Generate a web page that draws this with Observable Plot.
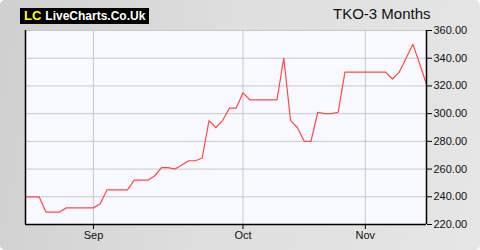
<!DOCTYPE html>
<html><head><meta charset="utf-8">
<script src="https://cdn.jsdelivr.net/npm/d3@7"></script>
<script src="https://cdn.jsdelivr.net/npm/@observablehq/plot@0.6"></script>
<style>
html,body{margin:0;padding:0;background:#fff;}
#wrap{position:relative;width:480px;height:250px;border-radius:5px;overflow:hidden;
 background:linear-gradient(100deg,#cfcfcf 0%,#dedede 45%,#e6e6e6 100%);}
#logo{position:absolute;left:20px;top:8px;height:16px;padding-right:4px;background:#000;
 font:bold 12px "Liberation Sans",Arial,sans-serif;line-height:16px;color:#fff;white-space:nowrap;}
#logo .lc{color:#ffff00;margin-left:4px;margin-right:4px;font-size:13px;}
#title{position:absolute;left:333px;top:5px;font:15px "Liberation Sans",Arial,sans-serif;color:#111;white-space:nowrap;}
#chart{position:absolute;left:0;top:0;}
</style></head>
<body><div id="wrap"><div id="chart"></div>
<div id="logo"><span class="lc">LC</span>LiveCharts.Co.Uk</div>
<div id="title">TKO-3 Months</div></div>
<script>
const prices = [240,240,240,229,229,229,232,232,232,232,232,235,245,245,245,245,252,252,252,255,
 261,261,260,263,266,266,268,295,290,295,304,304,315,310,310,310,310,310,340,295,
 290,280,280,301,300,300,301,330,330,330,330,330,330,330,325,330,340,350,336,321];
const monthLabels = ["Sep","Oct","Nov"];
const monthIdx = [10,32,50];
const yTicks = [220,240,260,280,300,320,340,360];
const yDomain = [220,360];
const xDomain = [0, prices.length-1];

const data = prices.map((v,i)=>({i, v}));
const plot = Plot.plot({
  width:480, height:250,
  marginLeft:25, marginRight:54, marginTop:30, marginBottom:26,
  style:{background:"transparent", fontFamily:"'Liberation Sans',Arial,sans-serif", fontSize:"11px", color:"#111"},
  x:{domain:xDomain},
  y:{domain:yDomain},
  marks:[
    Plot.frame({fill:"#f8f9ff", stroke:null}),
    Plot.gridY(yTicks,{stroke:"#c8c8c8", strokeOpacity:1, strokeWidth:1}),
    Plot.gridX(monthIdx,{stroke:"#c8c8c8", strokeOpacity:1, strokeWidth:1}),
    Plot.line(data,{x:"i", y:"v", stroke:"#ff4848", strokeWidth:1.2}),
    Plot.ruleX([xDomain[0], xDomain[1]],{stroke:"#000", strokeWidth:1.5}),
    Plot.ruleY([yDomain[0]],{stroke:"#000", strokeWidth:1.5}),
    Plot.axisY(yTicks,{anchor:"right", tickFormat:d=>d.toFixed(2), tickSize:5, tickPadding:2, stroke:"#000", fill:"#111", label:null, fontSize:11}),
    Plot.axisX(monthIdx,{anchor:"bottom", tickFormat:(d,k)=>monthLabels[k], tickSize:5, tickPadding:2, stroke:"#000", fill:"#111", label:null, fontSize:11})
  ]
});
document.getElementById("chart").appendChild(plot);
</script></body></html>
